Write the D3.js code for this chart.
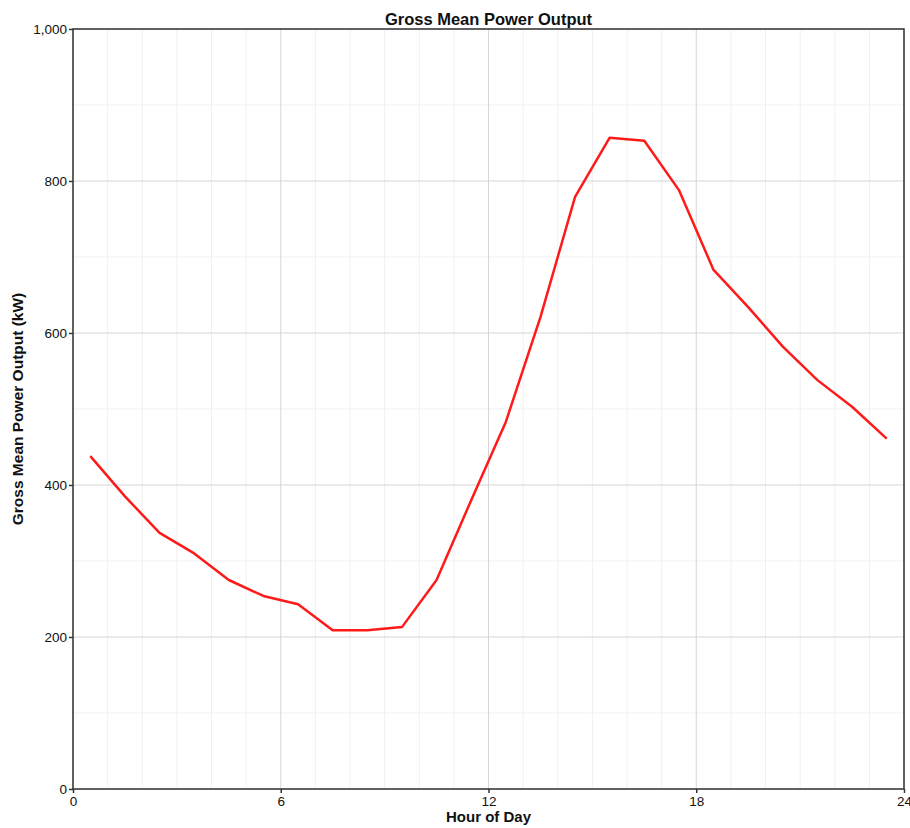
<!DOCTYPE html>
<html>
<head>
<meta charset="utf-8">
<script src="https://cdn.jsdelivr.net/npm/d3@7"></script>
<style>
  body { margin: 0; background: #fff; }
  text { font-family: Arial, "Liberation Sans", sans-serif; fill: #111; }
</style>
</head>
<body>
<svg id="chart"></svg>
<script>
// chart values
const hours = [0.5, 1.5, 2.5, 3.5, 4.5, 5.5, 6.5, 7.5, 8.5, 9.5, 10.5, 11.5,
               12.5, 13.5, 14.5, 15.5, 16.5, 17.5, 18.5, 19.5, 20.5, 21.5, 22.5, 23.5];
const power = [438, 385, 337, 310, 275, 254, 243, 209, 209, 213, 275, 380,
               483, 621, 779, 857, 853, 788, 683, 634, 582, 538, 503, 461];
const xTicks = [0, 6, 12, 18, 24];
const yTicks = [0, 200, 400, 600, 800, 1000];
const xMinor = [1, 2, 3, 4, 5, 7, 8, 9, 10, 11, 13, 14, 15, 16, 17, 19, 20, 21, 22, 23];
const yMinor = [100, 300, 500, 700, 900];

const width = 910;
const height = 828;
const margin = { top: 29, right: 6, bottom: 39, left: 73 };

const svg = d3.select("#chart").attr("width", width).attr("height", height);

const x = d3.scaleLinear().domain([0, 24]).range([margin.left, width - margin.right]);
const y = d3.scaleLinear().domain([0, 1000]).range([height - margin.bottom, margin.top]);

// minor grid first, then major grid on top
svg.append("g")
  .selectAll("line")
  .data(xMinor)
  .enter()
  .append("line")
  .attr("x1", (d) => x(d)).attr("x2", (d) => x(d))
  .attr("y1", y(0)).attr("y2", y(1000))
  .attr("stroke", "#f0f0f0").attr("stroke-width", 1);

svg.append("g")
  .selectAll("line")
  .data(yMinor)
  .enter()
  .append("line")
  .attr("x1", x(0)).attr("x2", x(24))
  .attr("y1", (d) => y(d)).attr("y2", (d) => y(d))
  .attr("stroke", "#f0f0f0").attr("stroke-width", 1);

svg.append("g")
  .selectAll("line")
  .data(xTicks)
  .enter()
  .append("line")
  .attr("x1", (d) => x(d)).attr("x2", (d) => x(d))
  .attr("y1", y(0)).attr("y2", y(1000))
  .attr("stroke", "#d6d6d6").attr("stroke-width", 1);

svg.append("g")
  .selectAll("line")
  .data(yTicks)
  .enter()
  .append("line")
  .attr("x1", x(0)).attr("x2", x(24))
  .attr("y1", (d) => y(d)).attr("y2", (d) => y(d))
  .attr("stroke", "#d6d6d6").attr("stroke-width", 1);

// the series
const line = d3.line()
  .x((d, i) => x(hours[i]))
  .y((d) => y(d));

svg.append("path")
  .datum(power)
  .attr("fill", "none")
  .attr("stroke", "#ff1a1a")
  .attr("stroke-width", 2.5)
  .attr("stroke-linejoin", "round")
  .attr("d", line);

// plot frame
svg.append("rect")
  .attr("x", x(0)).attr("y", y(1000))
  .attr("width", x(24) - x(0)).attr("height", y(0) - y(1000))
  .attr("fill", "none").attr("stroke", "#333").attr("stroke-width", 1.5);

// axes
const xAxis = d3.axisBottom(x).tickValues(xTicks).tickSize(4).tickPadding(3);
const yAxis = d3.axisLeft(y).tickValues(yTicks).tickSize(4).tickPadding(2).tickFormat(d3.format(","));

svg.append("g")
  .attr("transform", `translate(0, ${y(0)})`)
  .call(xAxis)
  .call((g) => g.select(".domain").remove())
  .call((g) => g.selectAll(".tick line").attr("stroke", "#333").attr("stroke-width", 1.5))
  .call((g) => g.selectAll(".tick text").attr("font-size", 13.5).attr("fill", "#111"));

svg.append("g")
  .attr("transform", `translate(${x(0)}, 0)`)
  .call(yAxis)
  .call((g) => g.select(".domain").remove())
  .call((g) => g.selectAll(".tick line").attr("stroke", "#333").attr("stroke-width", 1.5))
  .call((g) => g.selectAll(".tick text").attr("font-size", 13.5).attr("fill", "#111"));

// titles
svg.append("text")
  .attr("x", (x(0) + x(24)) / 2)
  .attr("y", 25)
  .attr("text-anchor", "middle")
  .attr("font-size", 16.5)
  .attr("font-weight", "bold")
  .text("Gross Mean Power Output");

svg.append("text")
  .attr("x", (x(0) + x(24)) / 2)
  .attr("y", 822)
  .attr("text-anchor", "middle")
  .attr("font-size", 15)
  .attr("font-weight", "bold")
  .text("Hour of Day");

svg.append("text")
  .attr("transform", `translate(23, ${(y(0) + y(1000)) / 2}) rotate(-90)`)
  .attr("text-anchor", "middle")
  .attr("font-size", 15.5)
  .attr("font-weight", "bold")
  .text("Gross Mean Power Output (kW)");
</script>
</body>
</html>
